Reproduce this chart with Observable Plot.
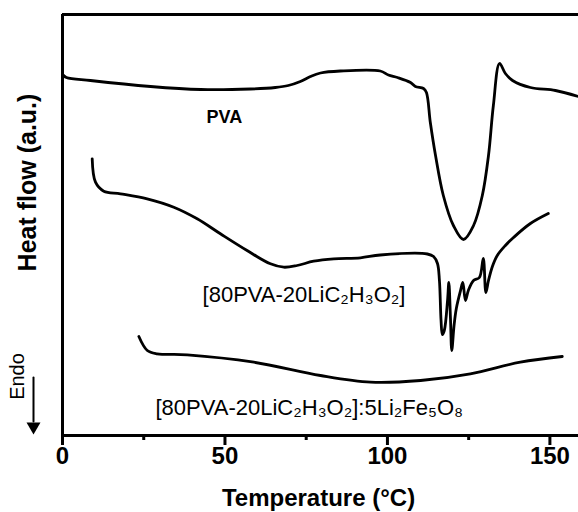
<!DOCTYPE html>
<html>
<head>
<meta charset="utf-8">
<script src="https://cdn.jsdelivr.net/npm/d3@7"></script>
<script src="https://cdn.jsdelivr.net/npm/@observablehq/plot@0.6"></script>
<style>
  html, body { margin: 0; padding: 0; background: #fff; }
  #chart svg { display: block; }
</style>
</head>
<body>
<div id="chart"></div>
<script>
// Temperature (°C) and heat flow (a.u.)
const pvaT  = [0, 1.2, 8.6, 27.1, 42.5, 57.8, 65.5, 69.5, 73.2, 76.3, 79.4, 85.5, 97.8, 100.3, 103.1, 107.1, 108.6, 111.1, 112.0, 113.2, 114.8, 117.2, 120.3, 123.4, 126.5, 129.2, 131.1, 132.6, 134.5, 136.3, 138.5, 144.0, 151.7, 158.8];
const pvaHF = [361, 358, 355, 349, 346, 346.5, 348, 350, 354, 359, 362.5, 364.5, 364.5, 360.5, 358, 353, 349, 347, 343, 313, 280, 240, 210, 196, 210, 240, 280, 330, 372, 362, 355, 348, 345, 339];

const liT  = [9.14, 10.15, 12.7, 17.85, 26.06, 34.25, 41.45, 48.6, 56.8, 64.0, 68.1, 72.2, 77.3, 83.5, 91.7, 97.8, 112.3, 114.2, 115.4, 116.0, 116.5, 116.9, 117.5, 118.5, 118.9, 119.4, 119.8, 120.5, 121.2, 122.5, 123.2, 124.0, 124.9, 126.5, 128.3, 129.5, 130.3, 131.1, 132.3, 133.8, 136.3, 138.8, 144.0, 149.5];
const liHF = [276.7, 253.3, 244.3, 241.7, 236.7, 228.3, 216.7, 201.7, 185, 171.7, 168.3, 170, 174.3, 176.7, 177.7, 180.5, 181.5, 179, 172, 155, 115, 101, 105, 135, 153, 117, 85, 110, 127, 145, 153, 135, 145, 155, 158, 177, 143, 155, 169, 180, 190, 198, 212, 222];

const feT  = [23.5, 26.1, 29.1, 38.4, 58.9, 79.4, 94.8, 110.2, 125.5, 140.9, 153.8];
const feHF = [99, 85, 81.7, 80.7, 73.3, 60, 53.3, 55, 61.7, 73.3, 79];

const seriesNames = ["PVA", "[80PVA-20LiC₂H₃O₂]", "[80PVA-20LiC₂H₃O₂]:5Li₂Fe₅O₈"];
const labelT  = [49.8, 43.1, 28.6];
const labelHF = [318, 141, 28];

const majorTicks = [0, 50, 100, 150];
const minorTicks = [25, 75, 125];
const xTitle = "Temperature (°C)";
const yTitle = "Heat flow (a.u.)";
const endoText = "Endo";

const toRows = (T, HF, name) => T.map((t, i) => ({t, hf: HF[i], name}));
const curves = [
  toRows(pvaT, pvaHF, seriesNames[0]),
  toRows(liT, liHF, seriesNames[1]),
  toRows(feT, feHF, seriesNames[2])
];
const labels = seriesNames.map((name, i) => ({name, t: labelT[i], hf: labelHF[i]}));

const font = "'Liberation Sans', Arial, Helvetica, sans-serif";

const chart = Plot.plot({
  width: 578,
  height: 512,
  marginLeft: 62,
  marginRight: 0,
  marginTop: 14,
  marginBottom: 77,
  style: {fontFamily: font, color: "#000", background: "#fff", overflow: "visible"},
  x: {domain: [0, 158.8], axis: null},
  y: {domain: [0, 421], axis: null},
  marks: [
    ...curves.map(rows => Plot.line(rows, {x: "t", y: "hf", stroke: "#000", strokeWidth: 2.8, curve: "catmull-rom"})),
    Plot.ruleY([0], {stroke: "#000", strokeWidth: 3}),
    Plot.ruleY([421], {stroke: "#000", strokeWidth: 3.2}),
    Plot.ruleX([0], {stroke: "#000", strokeWidth: 3, y1: 0, y2: 421}),
    Plot.axisX({ticks: majorTicks, tickSize: 10, tickPadding: 1, strokeWidth: 3, fontSize: 24, fontWeight: "bold", fill: "#000", label: null}),
    Plot.axisX({ticks: minorTicks, tickSize: 5, strokeWidth: 3, tickFormat: () => "", label: null}),
    Plot.text([labels[0]], {x: "t", y: "hf", text: "name", fontSize: 18, fontWeight: "bold", textAnchor: "middle", fill: "#000"}),
    Plot.text(labels.slice(1), {x: "t", y: "hf", text: "name", fontSize: 22, textAnchor: "start", fill: "#000"}),
    Plot.text([xTitle], {x: 78.8, frameAnchor: "bottom", dy: 70, text: d => d, fontSize: 24, fontWeight: "bold", fill: "#000"}),
    Plot.text([yTitle], {frameAnchor: "left", textAnchor: "middle", y: 253, dx: -35, rotate: -90, text: d => d, fontSize: 25, fontWeight: "bold", fill: "#000"}),
    Plot.text([endoText], {frameAnchor: "left", textAnchor: "middle", y: 59, dx: -44.5, rotate: -90, text: d => d, fontSize: 20, fill: "#000"}),
    Plot.line([{hf: 58}, {hf: 14}], {x: () => 0, y: "hf", dx: -29, stroke: "#000", strokeWidth: 2}),
    Plot.dot([{hf: 9}], {x: () => 0, y: "hf", dx: -29, symbol: "triangle", rotate: 180, r: 5.2, fill: "#000", stroke: "none"})
  ]
});

document.getElementById("chart").appendChild(chart);
</script>
</body>
</html>
